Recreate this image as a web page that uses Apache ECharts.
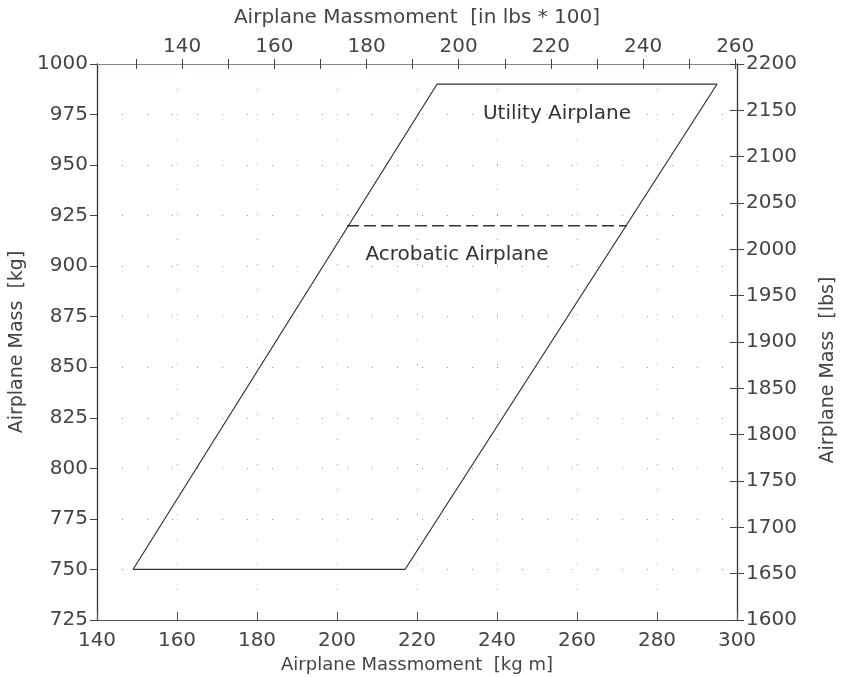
<!DOCTYPE html>
<html>
<head>
<meta charset="utf-8">
<script src="https://cdn.jsdelivr.net/npm/echarts@6/dist/echarts.min.js"></script>
<style>html,body{margin:0;padding:0;background:#fff;}#c{width:842px;height:677px;}</style>
</head>
<body>
<div id="c"></div>
<script>
// ---- data ----
var envelopeX = [149, 217, 295, 225, 149];          // kg m
var envelopeY = [750, 750, 990, 990, 750];          // kg
var acroLimitX = [202.5, 272.5];                    // kg m
var acroLimitY = [920, 920];                        // kg
var annotationText = ['Utility Airplane', 'Acrobatic Airplane'];
var annotationX = [255, 230];
var annotationY = [975.5, 905.5];
var kgmToInLb100 = 0.86796;                          // 1 kg m = 86.796 in lb
var topTickValues = [130, 140, 150, 160, 170, 180, 190, 200, 210, 220, 230, 240, 250, 260];
var topLabelValues = [140, 160, 180, 200, 220, 240, 260];

var FONT = 'DejaVu Sans';
var TXT = '#444';
var plain = function (v) { return String(Math.round(v)); };

var envelope = envelopeX.map(function (x, i) { return [x, envelopeY[i]]; });
var acro = acroLimitX.map(function (x, i) { return [x, acroLimitY[i]]; });
var notes = annotationText.map(function (t, i) { return { value: [annotationX[i], annotationY[i]], name: t }; });

var chart = echarts.init(document.getElementById('c'));
var topMin = 140 * kgmToInLb100, topMax = 300 * kgmToInLb100;
chart.setOption({
  animation: false,
  backgroundColor: '#fff',
  grid: { left: 97, right: 105, top: 64, bottom: 57, containLabel: false, outerBoundsMode: 'none' },
  xAxis: [
    {
      type: 'value', position: 'bottom', min: 140, max: 300, interval: 20,
      name: 'Airplane Massmoment  [kg m]', nameLocation: 'middle', nameGap: 34,
      nameTextStyle: { fontFamily: FONT, fontSize: 18, color: TXT },
      axisLine: { lineStyle: { color: '#555', width: 1 } },
      axisTick: { inside: true, length: 8, lineStyle: { color: '#555' } },
      axisLabel: { fontFamily: FONT, fontSize: 20, color: TXT, margin: 11, formatter: plain },
      splitLine: { show: true, lineStyle: { color: '#999', type: [1, 24], width: 1 } }
    },
    {
      type: 'value', position: 'top', min: topMin, max: topMax,
      name: 'Airplane Massmoment  [in lbs * 100]', nameLocation: 'middle', nameGap: 36,
      nameTextStyle: { fontFamily: FONT, fontSize: 20, color: TXT },
      axisLine: { show: true, lineStyle: { color: '#7d8896', width: 1 } },
      axisTick: { show: true, inside: false, length: 5, customValues: topTickValues, lineStyle: { color: '#444' } },
      axisLabel: { show: true, fontFamily: FONT, fontSize: 20, color: TXT, margin: 7, customValues: topLabelValues, formatter: plain },
      splitLine: { show: false }
    },
    {
      type: 'value', position: 'top', min: topMin, max: topMax,
      axisLine: { show: false },
      axisTick: { show: true, inside: true, length: 5, customValues: topTickValues, lineStyle: { color: '#444' } },
      axisLabel: { show: false },
      splitLine: { show: false }
    }
  ],
  yAxis: [
    {
      type: 'value', position: 'left', min: 725, max: 1000, interval: 25,
      name: 'Airplane Mass  [kg]', nameLocation: 'middle', nameGap: 70, nameRotate: 90,
      nameTextStyle: { fontFamily: FONT, fontSize: 19, color: TXT },
      axisLine: { show: true, lineStyle: { color: '#333', width: 1.3 } },
      axisTick: { show: true, inside: false, length: 7, lineStyle: { color: '#444' } },
      axisLabel: { fontFamily: FONT, fontSize: 20, color: TXT, margin: 9, formatter: plain },
      splitLine: { show: true, lineStyle: { color: '#999', type: [1, 24], width: 1 } }
    },
    {
      type: 'value', position: 'right', min: 1600, max: 2200, interval: 50,
      name: 'Airplane Mass  [lbs]', nameLocation: 'middle', nameGap: 82, nameRotate: 90,
      nameTextStyle: { fontFamily: FONT, fontSize: 19, color: TXT, padding: [0, 56, 0, 0] },
      axisLine: { show: true, lineStyle: { color: '#333', width: 1.3 } },
      axisTick: { show: true, inside: false, length: 7, lineStyle: { color: '#444' } },
      axisLabel: { fontFamily: FONT, fontSize: 20, color: TXT, margin: 9, formatter: plain },
      splitLine: { show: false }
    },
    {
      type: 'value', position: 'right', min: 1600, max: 2200, interval: 50,
      axisLine: { show: false },
      axisTick: { show: true, inside: true, length: 7, lineStyle: { color: '#444' } },
      axisLabel: { show: false },
      splitLine: { show: false }
    }
  ],
  series: [
    {
      type: 'line', xAxisIndex: 0, yAxisIndex: 0, data: envelope,
      symbol: 'none', lineStyle: { color: '#333', width: 1.2 }, silent: true
    },
    {
      type: 'line', xAxisIndex: 0, yAxisIndex: 0, data: acro,
      symbol: 'none', lineStyle: { color: '#333', width: 1.3, type: [12, 5] }, silent: true
    },
    {
      type: 'scatter', xAxisIndex: 0, yAxisIndex: 0, data: notes, symbolSize: 0,
      label: { show: true, position: 'inside', formatter: '{b}', fontFamily: FONT, fontSize: 20, color: '#333', opacity: 1 },
      emphasis: { disabled: true },
      silent: true
    }
  ]
});
</script>
</body>
</html>
